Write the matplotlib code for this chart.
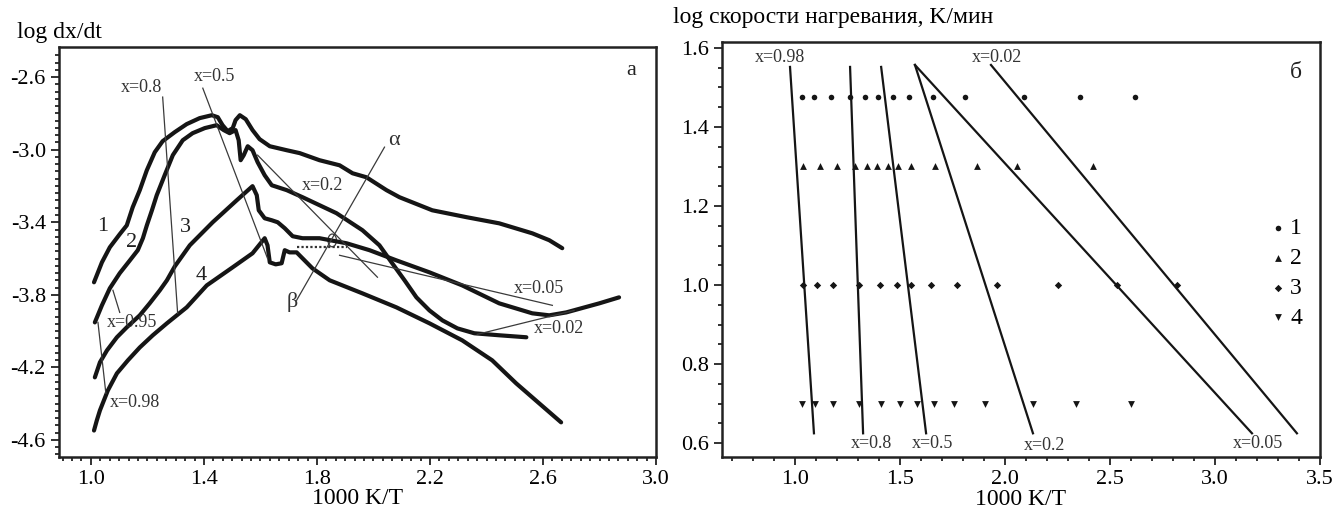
import numpy as np
import matplotlib
matplotlib.use("Agg")
import matplotlib.pyplot as plt
from matplotlib.ticker import MultipleLocator, FixedLocator, FormatStrFormatter
from matplotlib.patches import Ellipse

plt.rcParams["font.family"] = ["Liberation Serif", "DejaVu Serif"]
plt.rcParams["axes.unicode_minus"] = False

# --- panel a: rate curves, log dx/dt vs 1000/T ---
c1_x = [1.011, 1.039, 1.067, 1.102, 1.127, 1.148, 1.173, 1.198, 1.226, 1.254, 1.297, 1.339,
        1.385, 1.428, 1.449, 1.466, 1.484, 1.502, 1.512, 1.527, 1.548, 1.572, 1.597, 1.633,
        1.693, 1.739, 1.809, 1.880, 1.926, 1.975, 2.046, 2.092, 2.208, 2.329, 2.445, 2.562,
        2.622, 2.668]
c1_y = [-3.731, -3.621, -3.538, -3.466, -3.417, -3.317, -3.223, -3.113, -3.014, -2.953, -2.903,
        -2.859, -2.826, -2.810, -2.821, -2.865, -2.898, -2.881, -2.837, -2.810, -2.832, -2.892,
        -2.942, -2.981, -3.003, -3.019, -3.058, -3.086, -3.130, -3.152, -3.223, -3.262, -3.334,
        -3.372, -3.406, -3.461, -3.499, -3.543]

c2_x = [1.014, 1.039, 1.067, 1.102, 1.138, 1.166, 1.184, 1.198, 1.216, 1.233, 1.261, 1.290,
        1.325, 1.360, 1.403, 1.445, 1.470, 1.491, 1.512, 1.523, 1.530, 1.541, 1.555, 1.572,
        1.590, 1.615, 1.640, 1.693, 1.749, 1.869, 1.961, 2.021, 2.064, 2.110, 2.152, 2.198,
        2.244, 2.297, 2.357, 2.445, 2.541]
c2_y = [-3.952, -3.858, -3.764, -3.681, -3.610, -3.554, -3.488, -3.417, -3.334, -3.251, -3.141,
        -3.030, -2.948, -2.909, -2.881, -2.865, -2.892, -2.909, -2.892, -2.948, -3.058, -3.030,
        -2.981, -3.003, -3.069, -3.141, -3.196, -3.223, -3.262, -3.350, -3.444, -3.527, -3.621,
        -3.720, -3.814, -3.886, -3.941, -3.985, -4.012, -4.023, -4.034]

c3_x = [1.014, 1.032, 1.057, 1.092, 1.127, 1.173, 1.208, 1.244, 1.269, 1.297, 1.350, 1.431,
        1.516, 1.572, 1.587, 1.594, 1.615, 1.640, 1.661, 1.686, 1.714, 1.749, 1.809, 1.905,
        1.986, 2.081, 2.198, 2.314, 2.445, 2.562, 2.622, 2.682, 2.799, 2.869]
c3_y = [-4.255, -4.172, -4.106, -4.034, -3.979, -3.913, -3.847, -3.775, -3.720, -3.643, -3.527,
        -3.400, -3.279, -3.201, -3.251, -3.334, -3.378, -3.389, -3.400, -3.433, -3.477, -3.488,
        -3.488, -3.516, -3.554, -3.610, -3.676, -3.748, -3.847, -3.902, -3.913, -3.897, -3.847,
        -3.814]

c4_x = [1.011, 1.021, 1.032, 1.060, 1.092, 1.131, 1.173, 1.219, 1.269, 1.339, 1.410, 1.502,
        1.572, 1.615, 1.625, 1.633, 1.654, 1.675, 1.686, 1.703, 1.728, 1.756, 1.784, 1.845,
        1.961, 2.081, 2.198, 2.314, 2.420, 2.505, 2.587, 2.664]
c4_y = [-4.548, -4.492, -4.437, -4.327, -4.233, -4.161, -4.090, -4.023, -3.957, -3.869, -3.748,
        -3.648, -3.571, -3.488, -3.527, -3.621, -3.632, -3.626, -3.554, -3.566, -3.566, -3.610,
        -3.654, -3.720, -3.792, -3.869, -3.957, -4.051, -4.161, -4.288, -4.399, -4.503]

curves_a = [(c1_x, c1_y), (c2_x, c2_y), (c3_x, c3_y), (c4_x, c4_y)]
curve_names = ["1", "2", "3", "4"]
curve_name_pos = [(1.042, -3.422), (1.145, -3.510), (1.336, -3.428), (1.392, -3.692)]

# isoconversion lines: label, start, end, label position
iso_a = [
    ("x=0.8", (1.254, -2.710), (1.307, -3.902), (1.180, -2.655)),
    ("x=0.5", (1.396, -2.661), (1.625, -3.599), (1.438, -2.594)),
    ("x=0.2", (1.590, -3.030), (2.014, -3.703), (1.820, -3.196)),
    ("x=0.05", (1.880, -3.582), (2.633, -3.858), (2.587, -3.764)),
    ("x=0.02", (2.367, -4.018), (2.710, -3.886), (2.657, -3.985)),
]
iso_a_short = [
    ("x=0.95", (1.078, -3.775), (1.102, -3.897), (1.057, -3.952)),
    ("x=0.98", (1.025, -3.952), (1.053, -4.343), (1.067, -4.393)),
]
ab_line = [(2.039, -2.986), (1.728, -3.830)]
dotted_x = [1.728, 1.905]
dotted_y = [-3.538, -3.538]

xticks_a = [1.0, 1.4, 1.8, 2.2, 2.6, 3.0]
yticks_a = [-2.6, -3.0, -3.4, -3.8, -4.2, -4.6]

# --- panel b: heating rate vs 1000/T at fixed conversion ---
rates = [np.log10(30), np.log10(20), np.log10(10), np.log10(5)]
s1_x = [1.033, 1.090, 1.171, 1.262, 1.333, 1.395, 1.467, 1.543, 1.657, 1.810, 2.090, 2.357, 2.619]
s2_x = [1.038, 1.119, 1.200, 1.286, 1.343, 1.390, 1.443, 1.490, 1.552, 1.667, 1.867, 2.057, 2.419]
s3_x = [1.038, 1.105, 1.181, 1.305, 1.405, 1.486, 1.552, 1.648, 1.771, 1.962, 2.252, 2.533, 2.819]
s4_x = [1.033, 1.095, 1.181, 1.305, 1.410, 1.500, 1.581, 1.662, 1.757, 1.905, 2.133, 2.338, 2.600]
series_b = [s1_x, s2_x, s3_x, s4_x]
series_labels = ["1", "2", "3", "4"]
series_markers = ["o", "^", "D", "v"]
series_sizes = [16, 24, 14, 24]

iso_b = [
    ("x=0.98", (0.976, 1.552), (1.090, 0.625), (0.929, 1.575)),
    ("x=0.8", (1.262, 1.552), (1.324, 0.625), (1.362, 0.598)),
    ("x=0.5", (1.410, 1.552), (1.624, 0.625), (1.657, 0.598)),
    ("x=0.2", (1.571, 1.557), (2.133, 0.625), (2.186, 0.595)),
    ("x=0.05", (1.571, 1.557), (3.176, 0.625), (3.205, 0.598)),
    ("x=0.02", (1.933, 1.557), (3.390, 0.625), (1.962, 1.577)),
]

INK = "#151515"
THIN = "#3a3a3a"


def style_axes(ax):
    for side in ["left", "bottom", "top", "right"]:
        ax.spines[side].set_linewidth(1.8)
        ax.spines[side].set_color("#222222")
    ax.tick_params(which="both", direction="out", top=False, right=False,
                   labelsize=16, color="#222222", width=1.3)
    ax.tick_params(which="major", length=6)
    ax.tick_params(which="minor", length=3)


fig = plt.figure(figsize=(13.37, 5.12), dpi=100)

# panel a
ax1 = fig.add_axes([0.0441, 0.1074, 0.4466, 0.8008])
for cx, cy in curves_a:
    ax1.plot(cx, cy, color=INK, lw=3.0, solid_capstyle="round", solid_joinstyle="round")
for name, (tx, ty) in zip(curve_names, curve_name_pos):
    ax1.text(tx, ty, name, fontsize=16, ha="center", va="center", color="#222222")
for lab, p0, p1, lp in iso_a:
    ax1.plot([p0[0], p1[0]], [p0[1], p1[1]], color=THIN, lw=0.9)
    ax1.text(lp[0], lp[1], lab, fontsize=13, ha="center", va="center", color="#333333")
for lab, p0, p1, lp in iso_a_short:
    ax1.plot([p0[0], p1[0]], [p0[1], p1[1]], color=THIN, lw=0.9)
    ax1.text(lp[0], lp[1], lab, fontsize=13, ha="left", va="center", color="#333333")
ax1.plot([ab_line[0][0], ab_line[1][0]], [ab_line[0][1], ab_line[1][1]], color=THIN, lw=0.9)
ax1.add_patch(Ellipse((1.854, -3.500), 0.03, 0.07, fill=False, ec=THIN, lw=0.9))
ax1.plot(dotted_x, dotted_y, color="#333333", lw=1.6, linestyle=(0, (1, 1)))
ax1.text(2.074, -2.948, "α", fontsize=16, ha="center", va="center", color="#333333")
ax1.text(1.714, -3.841, "β", fontsize=16, ha="center", va="center", color="#333333")
ax1.text(2.912, -2.561, "a", fontsize=16, ha="center", va="center", color="#222222")

ax1.set_xlim(0.887, 3.0)
ax1.set_ylim(-4.694, -2.434)
ax1.xaxis.set_major_locator(FixedLocator(xticks_a))
ax1.xaxis.set_minor_locator(FixedLocator(np.arange(0.9, 3.0, 0.4 / 12)))
ax1.yaxis.set_major_locator(FixedLocator(yticks_a))
ax1.yaxis.set_minor_locator(FixedLocator(np.arange(-4.68, -2.44, 0.04)))
ax1.xaxis.set_major_formatter(FormatStrFormatter("%.1f"))
ax1.yaxis.set_major_formatter(FormatStrFormatter("%.1f"))
style_axes(ax1)
ax1.set_xlabel("1000 K/T", fontsize=17, labelpad=-1)
fig.text(0.013, 0.937, "log dx/dt", fontsize=17, ha="left", va="center")

# panel b
ax2 = fig.add_axes([0.540, 0.1074, 0.4473, 0.8105])
for lab, p0, p1, lp in iso_b:
    ax2.plot([p0[0], p1[0]], [p0[1], p1[1]], color=INK, lw=1.6)
    ax2.text(lp[0], lp[1], lab, fontsize=13, ha="center", va="center", color="#333333")
for xs, rate, lab, mk, sz in zip(series_b, rates, series_labels, series_markers, series_sizes):
    ax2.scatter(xs, [rate] * len(xs), marker=mk, s=sz, color=INK, lw=0, label=lab, zorder=3)
ax2.text(3.386, 1.539, "б", fontsize=17, ha="center", va="center", color="#222222")
ax2.legend(loc="upper left", bbox_to_anchor=(0.895, 0.605), frameon=False, fontsize=17,
           handletextpad=0.1, labelspacing=0.35, borderpad=0, handlelength=0.8,
           scatterpoints=1)

ax2.set_xlim(0.652, 3.5)
ax2.set_ylim(0.565, 1.615)
ax2.xaxis.set_major_locator(MultipleLocator(0.5))
ax2.xaxis.set_minor_locator(MultipleLocator(0.1))
ax2.yaxis.set_major_locator(MultipleLocator(0.2))
ax2.yaxis.set_minor_locator(MultipleLocator(0.05))
ax2.xaxis.set_major_formatter(FormatStrFormatter("%.1f"))
ax2.yaxis.set_major_formatter(FormatStrFormatter("%.1f"))
style_axes(ax2)
ax2.set_xlabel("1000 K/T", fontsize=17, labelpad=0)
fig.text(0.503, 0.965, "log скорости нагревания, K/мин", fontsize=17, ha="left", va="center")

fig.savefig("out.png", dpi=100)
